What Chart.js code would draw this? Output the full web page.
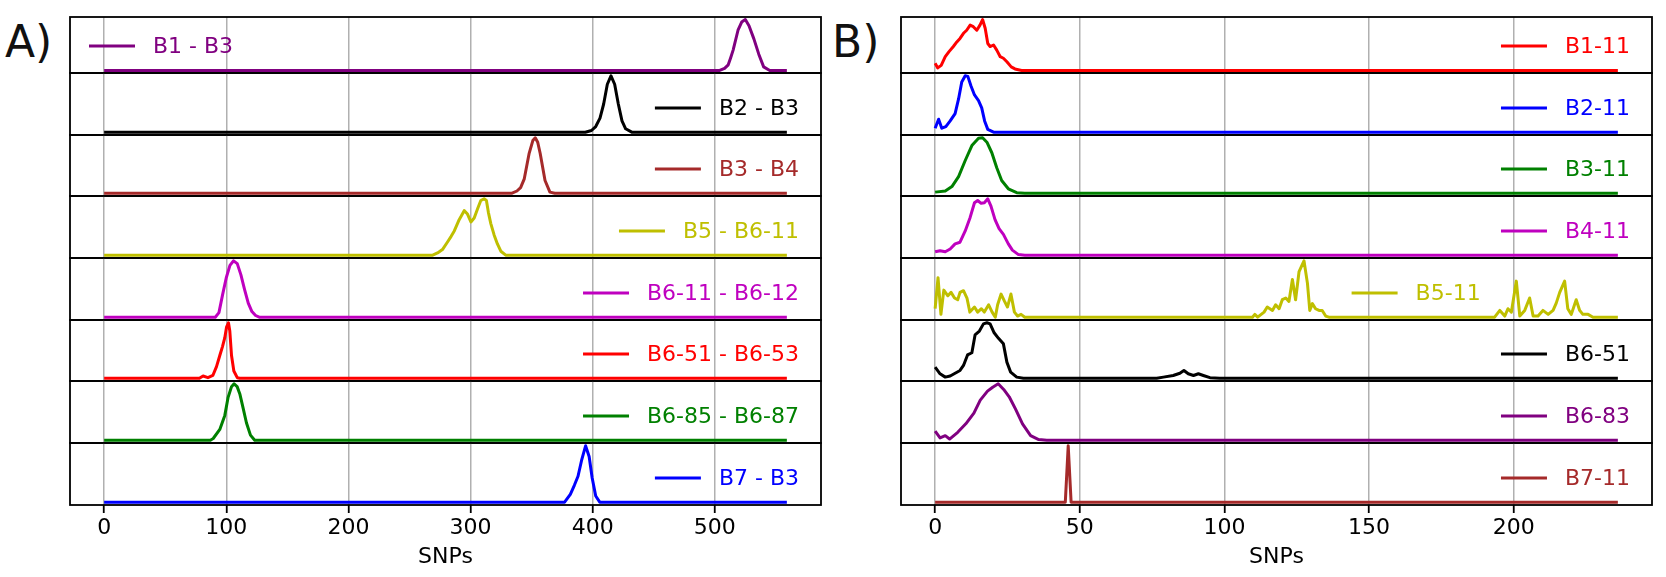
<!DOCTYPE html>
<html>
<head>
<meta charset="utf-8">
<script src="https://cdn.jsdelivr.net/npm/chart.js@4.4.1/dist/chart.umd.min.js"></script>
<style>
body { margin: 0; background: #fff; }
#fig { position: relative; width: 1666px; height: 577px; overflow: hidden; background: #fff; font-family: "DejaVu Sans"; }
#fig canvas { position: absolute; }
.tag { position: absolute; font-size: 44px; line-height: 1; color: #111; }
</style>
</head>
<body>
<div id="fig">
  <div class="tag" style="left:5px;top:20px">A)</div>
  <div class="tag" style="left:832px;top:20px">B)</div>
</div>
<script>
// tick labels
const ticksA = [0, 100, 200, 300, 400, 500];
const ticksB = [0, 50, 100, 150, 200];

// panel A: pairwise comparisons, [SNPs, relative density]
const labelsA = ['B1 - B3', 'B2 - B3', 'B3 - B4', 'B5 - B6-11', 'B6-11 - B6-12', 'B6-51 - B6-53', 'B6-85 - B6-87', 'B7 - B3'];
const a_B1B3 = [[0,0],[504,0],[508,0.04],[511,0.11],[513,0.25],[515,0.4],[519,0.79],[522,0.95],[525,1],[528,0.88],[532,0.62],[536,0.32],[540,0.07],[545,0],[559,0]];
const a_B2B3 = [[0,0],[394,0],[399,0.03],[402.5,0.1],[406,0.25],[409,0.5],[412,0.85],[415,1],[418,0.85],[421,0.5],[424,0.2],[427,0.06],[432,0],[559,0]];
const a_B3B4 = [[0,0],[334,0],[338,0.04],[341,0.1],[344,0.26],[348,0.72],[351,0.95],[353,1],[355,0.92],[357,0.72],[361,0.23],[365,0.02],[369,0],[559,0]];
const a_B5B611 = [[0,0],[269,0],[273,0.04],[277,0.1],[281,0.23],[284,0.33],[286.7,0.43],[290.7,0.63],[294.8,0.79],[297.5,0.73],[300.3,0.59],[303,0.66],[305.7,0.82],[308.4,0.97],[311.1,1],[313,0.97],[314.6,0.76],[316.6,0.56],[319.3,0.36],[322,0.2],[324.8,0.07],[328.8,0],[559,0]];
const a_B611B612 = [[0,0],[91,0],[94,0.08],[97,0.4],[100,0.7],[103,0.92],[106,1],[109,0.95],[112,0.75],[115,0.49],[118,0.25],[121,0.1],[124,0.03],[127,0],[559,0]];
const a_B651B653 = [[0,0],[78,0],[81,0.04],[85,0.01],[89,0.05],[92,0.21],[94.7,0.41],[96.9,0.57],[98.8,0.73],[100.2,0.92],[101.8,1],[102.9,0.85],[104.3,0.41],[106.2,0.13],[109,0.01],[111,0],[559,0]];
const a_B685B687 = [[0,0],[87,0],[89.3,0.03],[94.7,0.19],[98.8,0.44],[101.5,0.76],[104.3,0.95],[106.4,1],[108.9,0.95],[111.1,0.82],[113.8,0.57],[116.5,0.31],[119.8,0.09],[123.3,0],[559,0]];
const a_B7B3 = [[0,0],[377,0],[381.7,0.14],[385,0.3],[388,0.46],[390.9,0.74],[394.2,1],[397.1,0.81],[399.6,0.43],[402.5,0.11],[405.8,0],[559,0]];

// panel B: populations against B11
const labelsB = ['B1-11', 'B2-11', 'B3-11', 'B4-11', 'B5-11', 'B6-51', 'B6-83', 'B7-11'];
const b_B111 = [[0,0.14],[0.9,0.05],[2.1,0.1],[3.5,0.27],[4.8,0.37],[6.3,0.47],[7.5,0.56],[8.6,0.63],[9.8,0.73],[10.9,0.79],[12.1,0.89],[13.2,0.86],[14.4,0.79],[15.5,0.89],[16.4,1],[17.3,0.83],[18.2,0.53],[19,0.47],[20.2,0.5],[21.3,0.4],[22.5,0.27],[23.6,0.24],[24.8,0.17],[26.3,0.07],[27.6,0.03],[29.9,0],[236,0]];
const b_B211 = [[0,0.07],[1.2,0.23],[2.3,0.07],[3.7,0.1],[5.2,0.2],[6.9,0.33],[8.1,0.59],[9.2,0.89],[10.4,1],[11.3,0.99],[12.4,0.82],[13.6,0.66],[15,0.56],[16.1,0.43],[17.1,0.2],[18.2,0.05],[20.2,0],[236,0]];
const b_B311 = [[0,0.02],[3.5,0.04],[5.8,0.12],[8.1,0.3],[10.4,0.59],[12.7,0.86],[15,0.99],[16.4,1],[17.9,0.92],[19.6,0.73],[21.3,0.46],[23,0.23],[25.3,0.08],[28.2,0.01],[31,0],[236,0]];
const b_B411 = [[0,0.06],[1.7,0.08],[3.5,0.06],[5.2,0.11],[6.9,0.2],[8.6,0.23],[10.4,0.43],[12.1,0.67],[13.6,0.93],[14.7,0.97],[15.9,0.92],[17,0.93],[18.2,1],[19.3,0.87],[20.7,0.63],[22.1,0.47],[23.6,0.37],[25.3,0.2],[26.7,0.09],[28.8,0.01],[31,0],[236,0]];
const b_B511 = [[0,0.15],[1,0.7],[2,0.05],[3,0.48],[4.4,0.38],[5.5,0.44],[6.7,0.34],[7.8,0.31],[8.6,0.44],[9.8,0.47],[11,0.34],[12,0.09],[13.6,0.18],[14.7,0.09],[16,0.15],[17,0.09],[18.5,0.22],[19.7,0.09],[20.8,0],[21.6,0.22],[22.8,0.41],[24,0.28],[25,0.18],[26.2,0.41],[27.4,0.09],[28.5,0.02],[29.7,0.05],[31,0],
  [109.7,0],[110.5,0.05],[111.5,0],[113.7,0.09],[114.8,0.18],[116.6,0.12],[117.7,0.22],[118.9,0.15],[120,0.31],[121.2,0.34],[122.3,0.28],[123.5,0.67],[124.6,0.31],[125.8,0.81],[127.5,1],[128.7,0.6],[129.5,0.12],[130.4,0.24],[131.5,0.15],[132.7,0.12],[133.8,0.12],[135,0.02],[136.1,0],
  [193.4,0],[195.2,0.12],[196.9,0.02],[198,0.15],[199.2,0.09],[200.9,0.64],[202.1,0.02],[203.8,0.12],[205.5,0.34],[206.7,0.02],[208.4,0.02],[210.1,0.12],[211.9,0.05],[213.6,0.12],[214.7,0.25],[215.9,0.44],[217.6,0.64],[218.7,0.15],[219.9,0.05],[221.6,0.31],[222.8,0.12],[223.9,0.05],[225.7,0.05],[227.4,0],[236,0]];
const b_B651 = [[0,0.2],[1.7,0.08],[3.5,0.02],[5.2,0.04],[6.9,0.09],[8.6,0.14],[9.8,0.23],[11.2,0.42],[12.7,0.46],[13.8,0.78],[15.3,0.85],[16.7,0.98],[17.9,1],[19,0.98],[20.4,0.82],[21.9,0.72],[23.6,0.62],[24.8,0.29],[26.1,0.11],[28.2,0.02],[30.5,0],[76.6,0],[78.9,0.02],[82.3,0.05],[84.6,0.09],[86,0.14],[87.5,0.08],[89.3,0.05],[91,0.08],[92.7,0.05],[95,0.01],[98.4,0],[236,0]];
const b_B683 = [[0,0.16],[1.7,0.04],[3.5,0.08],[5,0.02],[7.8,0.14],[10.6,0.29],[13.4,0.48],[15.6,0.71],[18.1,0.87],[19.9,0.94],[21.8,1],[23.7,0.9],[25.6,0.77],[27.8,0.55],[30.2,0.29],[33,0.08],[35.8,0.01],[38.6,0],[236,0]];
const b_B711 = [[0,0],[45,0],[46,1],[47,0],[236,0]];

const seriesA = [a_B1B3, a_B2B3, a_B3B4, a_B5B611, a_B611B612, a_B651B653, a_B685B687, a_B7B3];
const seriesB = [b_B111, b_B211, b_B311, b_B411, b_B511, b_B651, b_B683, b_B711];

// styles and layout
const colorsA = ['#800080', '#000000', '#a52a2a', '#bfbf00', '#bf00bf', '#ff0000', '#008000', '#0000ff'];
const colorsB = ['#ff0000', '#0000ff', '#008000', '#bf00bf', '#bfbf00', '#000000', '#800080', '#a52a2a'];
const legendLocA = ['left', 'right', 'right', 'right', 'right', 'right', 'right', 'right'];
const legendLocB = ['right', 'right', 'right', 'right', 0.6, 'right', 'right', 'right'];
const rowEdges = [17, 73, 135, 196, 258, 320, 381, 443, 505];
const panelLeft = [70, 901];
const axW = 751;
const PAD = 2;
const FIG_H = 577;

Chart.defaults.font.family = '"DejaVu Sans"';
Chart.defaults.color = '#000';

// frame box and one-entry legend like matplotlib's
const frameLegend = {
  id: 'frameLegend',
  afterDraw(chart, args, opts) {
    const { ctx, chartArea: a } = chart;
    ctx.save();
    ctx.strokeStyle = '#000';
    ctx.lineWidth = 1.8;
    ctx.strokeRect(a.left, a.top, a.right - a.left, a.bottom - a.top);
    ctx.font = '22px "DejaVu Sans"';
    const tw = ctx.measureText(opts.text).width;
    const cy = a.bottom - 27;
    let x0;
    if (opts.loc === 'left') x0 = a.left + 19;
    else if (typeof opts.loc === 'number') x0 = a.left + opts.loc * (a.right - a.left);
    else x0 = a.right - 22 - tw - 18 - 46;
    ctx.strokeStyle = opts.color;
    ctx.lineWidth = 3;
    ctx.beginPath();
    ctx.moveTo(x0, cy);
    ctx.lineTo(x0 + 46, cy);
    ctx.stroke();
    ctx.fillStyle = opts.color;
    ctx.textBaseline = 'middle';
    ctx.textAlign = 'left';
    ctx.fillText(opts.text, x0 + 64, cy + 1);
    ctx.restore();
  }
};

const fig = document.getElementById('fig');

function makeRow(panel, i, series, label, color, loc, tickVals, xMin, xMax) {
  const last = i === 7;
  const top = rowEdges[i] - PAD;
  const height = (last ? FIG_H : rowEdges[i + 1] + PAD) - top;
  const cv = document.createElement('canvas');
  cv.width = axW + 2 * PAD;
  cv.height = height;
  cv.style.left = (panelLeft[panel] - PAD) + 'px';
  cv.style.top = top + 'px';
  fig.appendChild(cv);

  new Chart(cv, {
    type: 'line',
    data: {
      datasets: [{
        data: series.map(p => ({ x: p[0], y: p[1] })),
        borderColor: color,
        borderWidth: 3,
        borderJoinStyle: 'round',
        pointRadius: 0,
        tension: 0,
        fill: false
      }]
    },
    options: {
      responsive: false,
      animation: false,
      events: [],
      layout: { padding: { left: PAD, right: PAD, top: PAD, bottom: last ? 0 : PAD } },
      plugins: {
        legend: { display: false },
        tooltip: { enabled: false },
        frameLegend: { text: label, color: color, loc: loc }
      },
      scales: {
        x: {
          type: 'linear',
          min: xMin,
          max: xMax,
          afterBuildTicks: s => { s.ticks = tickVals.map(v => ({ value: v })); },
          afterFit: s => { s.height = last ? FIG_H - rowEdges[8] : 0; },
          grid: { color: '#b0b0b0', lineWidth: 1.5, drawTicks: last, tickLength: 8, tickColor: '#000', tickWidth: 1.8 },
          border: { display: false },
          ticks: { display: last, font: { size: 22 }, color: '#000', padding: 2, maxRotation: 0 },
          title: { display: last, text: 'SNPs', font: { size: 22 }, color: '#000', padding: { top: 0, bottom: 7 } }
        },
        y: { display: false, min: -0.05, max: 1.05 }
      }
    },
    plugins: [frameLegend]
  });
}

seriesA.forEach((s, i) => makeRow(0, i, s, labelsA[i], colorsA[i], legendLocA[i], ticksA, -27.95, 586.95));
seriesB.forEach((s, i) => makeRow(1, i, s, labelsB[i], colorsB[i], legendLocB[i], ticksB, -11.8, 247.8));
</script>
</body>
</html>
